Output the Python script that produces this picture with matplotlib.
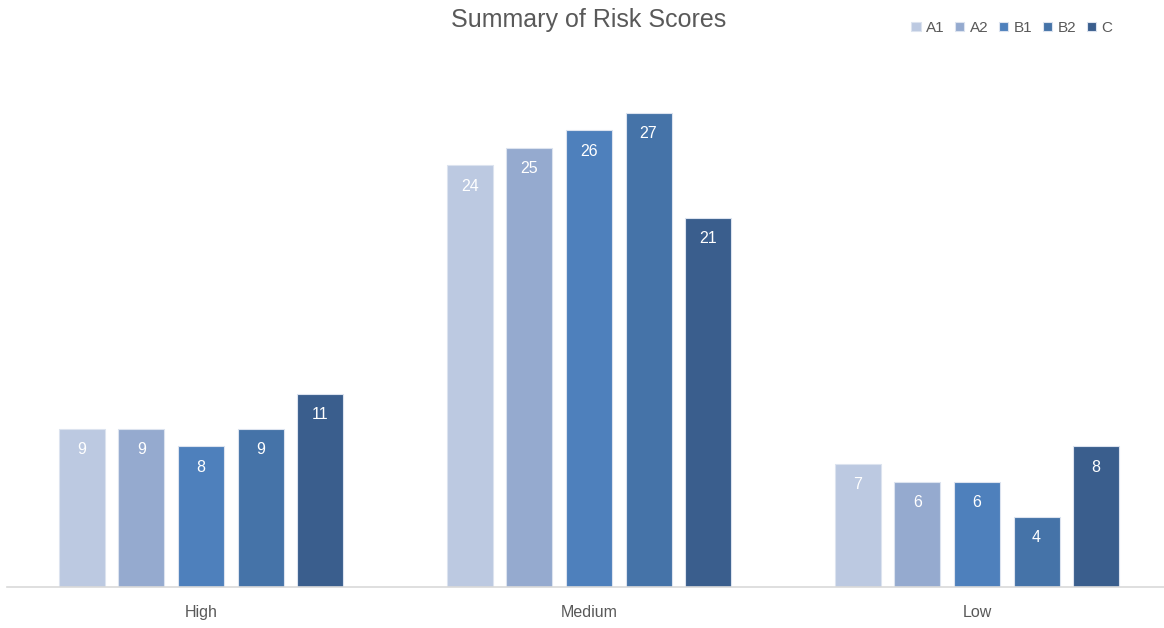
import numpy as np
import matplotlib.pyplot as plt
from matplotlib import font_manager

categories = ['High', 'Medium', 'Low']
series = ['A1', 'A2', 'B1', 'B2', 'C']
a1 = [9, 24, 7]
a2 = [9, 25, 6]
b1 = [8, 26, 6]
b2 = [9, 27, 4]
c = [11, 21, 8]
values = [a1, a2, b1, b2, c]
colors = ['#BCC9E1', '#95AACF', '#4E80BC', '#4573A8', '#3A5E8D']

names = {f.name for f in font_manager.fontManager.ttflist}
fam = 'Liberation Sans Narrow' if 'Liberation Sans Narrow' in names else 'Liberation Sans'
plt.rcParams['font.family'] = [fam, 'DejaVu Sans']

fig = plt.figure(figsize=(11.64, 6.28), dpi=100)
ax = fig.add_axes([7 / 1164, 41 / 628, 1.0, 527 / 628])

x = np.arange(len(categories))
step = 0.1534
width = 0.1186
for i, (name, vals, col) in enumerate(zip(series, values, colors)):
    pos = x + (i - 2) * step
    ax.bar(pos, vals, width, color=col, label=name,
           edgecolor='#DCE3EF', linewidth=0.8)
    for xb, v in zip(pos, vals):
        ax.annotate(str(v), (xb, v), xytext=(0, -15), textcoords='offset points',
                    ha='center', va='center', color='white', fontsize=11.5)

ax.set_xlim(-0.5, 2.5)
ax.set_ylim(0, 30)
ax.set_yticks([])
ax.set_xticks(x)
ax.set_xticklabels(categories, fontsize=11.5, color='#595959')
ax.tick_params(axis='x', length=0, pad=13)
for s in ['top', 'right', 'left']:
    ax.spines[s].set_visible(False)
ax.spines['bottom'].set_color('#D9D9D9')
ax.spines['bottom'].set_linewidth(1.2)

fig.text(589 / 1164, 1 - 20 / 628, 'Summary of Risk Scores', ha='center', va='center',
         fontsize=18, color='#595959')

fig.legend(loc='center right', bbox_to_anchor=(1126 / 1164, 1 - 28 / 628), ncol=5,
           frameon=False, fontsize=11, handlelength=0.6, handleheight=0.6,
           handletextpad=0.35, columnspacing=0.7, labelcolor='#595959')

plt.savefig('out.png', dpi=100)
